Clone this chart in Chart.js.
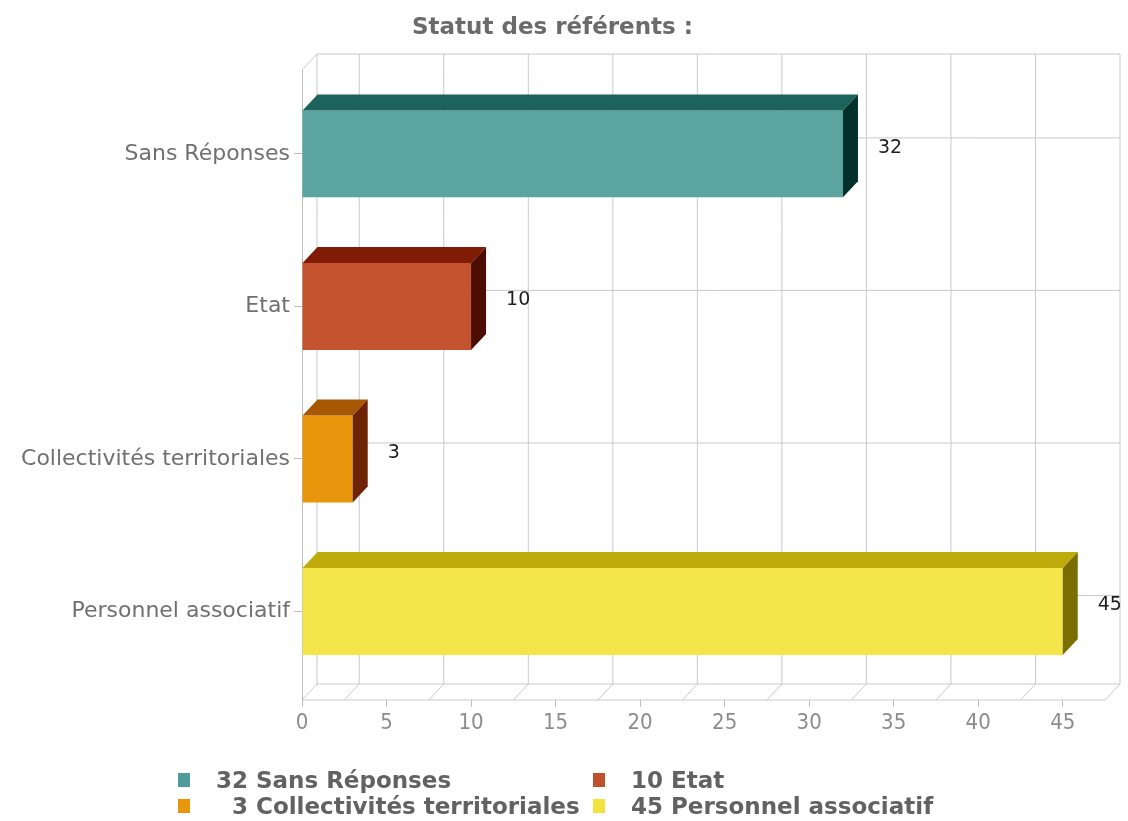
<!DOCTYPE html>
<html>
<head>
<meta charset="utf-8">
<script src="https://cdn.jsdelivr.net/npm/chart.js@4.4.1/dist/chart.umd.min.js"></script>
<style>
  html, body { margin: 0; padding: 0; background: #fff; }
  #wrap { position: relative; width: 1128px; height: 821px; }
  #legend {
    position: absolute; left: 178px; top: 767px;
    display: grid; grid-template-columns: 415px 420px;
    font: bold 23px "DejaVu Sans", sans-serif; color: #626262;
  }
  .item { display: flex; align-items: center; height: 26px; white-space: pre; }
  .sw { width: 12px; height: 14px; margin-right: 26px; }
  .num { display: inline-block; width: 32px; text-align: right; margin-right: 8px; }
</style>
</head>
<body>
<div id="wrap">
  <canvas id="chart" width="1128" height="821"></canvas>
  <div id="legend"></div>
</div>
<script>
const categories = ["Sans Réponses", "Etat", "Collectivités territoriales", "Personnel associatif"];
const values = [32, 10, 3, 45];
const xTicks = [0, 5, 10, 15, 20, 25, 30, 35, 40, 45];

const frontColors = ["#5ba4a0", "#c45330", "#e8960c", "#f3e54a"];
const topColors = ["#1d635d", "#801b05", "#a65804", "#bfab0c"];
const sideColors = ["#04302b", "#4c0c02", "#6e2404", "#7a6e00"];
const legendColors = ["#4f9b9c", "#c0502e", "#e8960c", "#f2e23e"];

// depth of the fake 3d
const DX = 15;
const DY = -16;
const gridColor = "#c9c9c9";

function line(ctx, x1, y1, x2, y2) {
  ctx.beginPath();
  ctx.moveTo(x1, y1);
  ctx.lineTo(x2, y2);
  ctx.stroke();
}

const frame3d = {
  id: "frame3d",
  beforeDatasetsDraw(chart) {
    const { ctx, chartArea: a, scales: { x, y } } = chart;
    ctx.save();
    ctx.strokeStyle = gridColor;
    ctx.lineWidth = 1;
    const t = a.top + DY, b = a.bottom + DY;
    // back wall
    line(ctx, a.left + DX, t, a.right + DX, t);
    line(ctx, a.left + DX, t, a.left + DX, b);
    line(ctx, a.left + DX, b, a.right + DX, b);
    xTicks.forEach((v) => {
      const px = x.getPixelForValue(v + 2.5) + DX;
      line(ctx, px, t, px, b);
    });
    categories.forEach((c, i) => {
      const py = y.getPixelForValue(i) + DY;
      line(ctx, a.left + DX, py, a.right + DX, py);
    });
    // left wall edge
    line(ctx, a.left, a.top, a.left + DX, t);
    // floor
    line(ctx, a.left, a.bottom, a.left + DX, b);
    xTicks.forEach((v) => {
      const px = x.getPixelForValue(v + 2.5);
      line(ctx, px, a.bottom, px + DX, b);
    });
    line(ctx, a.left + 1, a.bottom, a.right, a.bottom);
    ctx.restore();
  },
  afterDatasetsDraw(chart) {
    const { ctx } = chart;
    const meta = chart.getDatasetMeta(0);
    ctx.save();
    meta.data.forEach((bar, i) => {
      const top = bar.y - bar.height / 2;
      const bot = bar.y + bar.height / 2;
      const x0 = bar.base, x1 = bar.x;
      ctx.fillStyle = topColors[i];
      ctx.beginPath();
      ctx.moveTo(x0, top);
      ctx.lineTo(x0 + DX, top + DY);
      ctx.lineTo(x1 + DX, top + DY);
      ctx.lineTo(x1, top);
      ctx.closePath();
      ctx.fill();
      ctx.fillStyle = sideColors[i];
      ctx.beginPath();
      ctx.moveTo(x1, top);
      ctx.lineTo(x1 + DX, top + DY);
      ctx.lineTo(x1 + DX, bot + DY);
      ctx.lineTo(x1, bot);
      ctx.closePath();
      ctx.fill();
      ctx.fillStyle = "#1e1e1e";
      ctx.font = '19px "DejaVu Sans"';
      ctx.textAlign = "left";
      ctx.textBaseline = "middle";
      ctx.fillText(String(values[i]), x1 + DX + 20, bar.y - 6);
    });
    ctx.restore();
  }
};

new Chart(document.getElementById("chart"), {
  type: "bar",
  data: {
    datasets: [{
      data: values.map((v, i) => ({ x: v, y: i })),
      backgroundColor: frontColors,
      borderWidth: 0,
      barPercentage: 0.57,
      categoryPercentage: 1
    }]
  },
  options: {
    indexAxis: "y",
    responsive: false,
    animation: false,
    layout: { padding: { left: 0, right: 23, top: 0, bottom: 0 } },
    plugins: {
      legend: { display: false },
      tooltip: { enabled: false },
      title: {
        display: true,
        text: "Statut des référents :",
        color: "#6b6b6b",
        font: { family: "DejaVu Sans", size: 23, weight: "bold" },
        padding: { top: 14, bottom: 28.4 }
      }
    },
    scales: {
      x: {
        type: "linear",
        min: 0,
        max: 47.5,
        afterBuildTicks: (s) => { s.ticks = xTicks.map((v) => ({ value: v })); },
        afterFit: (s) => { s.height = 121; },
        ticks: {
          color: "#8c8c8c",
          font: { family: "'Liberation Sans Narrow', 'DejaVu Sans Condensed', 'DejaVu Sans'", size: 22 },
          padding: 3,
          maxRotation: 0
        },
        grid: { drawOnChartArea: false, tickLength: 7, color: "#bdbdbd" },
        border: { display: false }
      },
      y: {
        type: "linear",
        reverse: true,
        offset: false,
        min: -0.55,
        max: 3.58,
        afterBuildTicks: (s) => { s.ticks = categories.map((c, i) => ({ value: i })); },
        afterFit: (s) => { s.width = 302; },
        ticks: {
          callback: (v) => categories[v],
          color: "#707070",
          font: { family: "DejaVu Sans", size: 22 },
          padding: 4
        },
        grid: { drawOnChartArea: false, offset: false, tickLength: 8, color: "#bdbdbd" },
        border: { color: "#bdbdbd" }
      }
    }
  },
  plugins: [frame3d]
});

const legend = document.getElementById("legend");
categories.forEach((c, i) => {
  const item = document.createElement("div");
  item.className = "item";
  item.innerHTML = '<span class="sw" style="background:' + legendColors[i] + '"></span>' +
    '<span class="num">' + values[i] + '</span>' + c;
  legend.appendChild(item);
});
</script>
</body>
</html>
